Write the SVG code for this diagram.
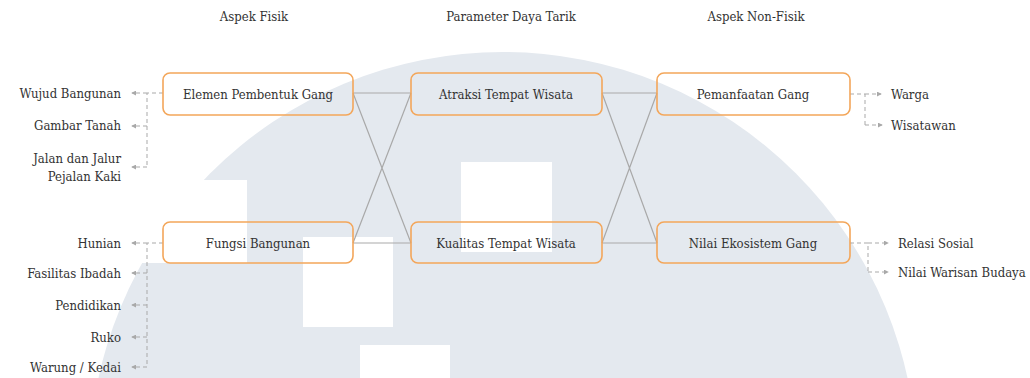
<svg xmlns="http://www.w3.org/2000/svg" width="1030" height="378" viewBox="0 0 1030 378">
<style>
text{font-family:'DejaVu Serif Condensed','DejaVu Serif',serif;font-stretch:condensed;font-size:13px;fill:#333}
.box{fill:none;stroke:#f3a65a;stroke-width:1.6}
.link{fill:none;stroke:#a9a9a9;stroke-width:1.2}
.dash{fill:none;stroke:#a9a9a9;stroke-width:1;stroke-dasharray:4 3}
.mid{text-anchor:middle}
.end{text-anchor:end}
</style>
<defs>
<marker id="ah" viewBox="0 0 6 6" refX="5" refY="3" markerWidth="5" markerHeight="5" markerUnits="userSpaceOnUse" orient="auto">
<path d="M0,0 L6,3 L0,6 z" fill="#a9a9a9"/>
</marker>
</defs>
<g id="watermark">
<circle cx="503" cy="466" r="414" fill="#e4e9ef"/>
<rect x="120" y="180" width="127" height="83" fill="#fff"/>
<rect x="303" y="237" width="90" height="90" fill="#fff"/>
<rect x="360" y="345" width="90" height="40" fill="#fff"/>
<rect x="461" y="162" width="91" height="90" fill="#fff"/>
</g>
<g id="headers">
<text class="mid" x="254" y="21">Aspek Fisik</text>
<text class="mid" x="511" y="21">Parameter Daya Tarik</text>
<text class="mid" x="756" y="21">Aspek Non-Fisik</text>
</g>
<g id="connectors">
<path class="link" d="M353,93 H411 M353,93 L411,243 M353,243 L411,93 M353,243 H411"/>
<path class="link" d="M602,93 H657 M602,93 L657,243 M602,243 L657,93 M602,243 H657"/>
<path class="dash" d="M163,93 H147 V167"/>
<path class="dash" d="M147,93 H132" marker-end="url(#ah)"/>
<path class="dash" d="M147,126 H132" marker-end="url(#ah)"/>
<path class="dash" d="M147,167 H132" marker-end="url(#ah)"/>
<path class="dash" d="M163,243 H147 V367"/>
<path class="dash" d="M147,243 H132" marker-end="url(#ah)"/>
<path class="dash" d="M147,273 H132" marker-end="url(#ah)"/>
<path class="dash" d="M147,305 H132" marker-end="url(#ah)"/>
<path class="dash" d="M147,337 H132" marker-end="url(#ah)"/>
<path class="dash" d="M147,367 H132" marker-end="url(#ah)"/>
<path class="dash" d="M850,94 H865 V125"/>
<path class="dash" d="M865,94 H881" marker-end="url(#ah)"/>
<path class="dash" d="M865,125 H882" marker-end="url(#ah)"/>
<path class="dash" d="M850,243 H868 V272"/>
<path class="dash" d="M868,243 H888" marker-end="url(#ah)"/>
<path class="dash" d="M868,272 H888" marker-end="url(#ah)"/>
</g>
<g id="elemen"><rect class="box" x="163" y="73" width="190" height="42" rx="7"/><text class="mid" x="258" y="99">Elemen Pembentuk Gang</text></g>
<g id="fungsi"><rect class="box" x="163" y="222" width="190" height="41" rx="7"/><text class="mid" x="258" y="248">Fungsi Bangunan</text></g>
<g id="atraksi"><rect class="box" x="411" y="73" width="191" height="42" rx="7"/><text class="mid" x="506" y="99">Atraksi Tempat Wisata</text></g>
<g id="kualitas"><rect class="box" x="411" y="222" width="191" height="41" rx="7"/><text class="mid" x="506" y="248">Kualitas Tempat Wisata</text></g>
<g id="pemanfaatan"><rect class="box" x="657" y="73" width="193" height="42" rx="7"/><text class="mid" x="753" y="99">Pemanfaatan Gang</text></g>
<g id="nilai-ekosistem"><rect class="box" x="657" y="222" width="193" height="41" rx="7"/><text class="mid" x="753" y="248">Nilai Ekosistem Gang</text></g>
<g id="wujud"><text class="end" x="121" y="98">Wujud Bangunan</text></g>
<g id="gambar"><text class="end" x="121" y="130">Gambar Tanah</text></g>
<g id="jalan"><text class="end" x="121" y="163">Jalan dan Jalur</text><text class="end" x="121" y="181">Pejalan Kaki</text></g>
<g id="hunian"><text class="end" x="121" y="248">Hunian</text></g>
<g id="fasilitas"><text class="end" x="121" y="278">Fasilitas Ibadah</text></g>
<g id="pendidikan"><text class="end" x="121" y="310">Pendidikan</text></g>
<g id="ruko"><text class="end" x="121" y="342">Ruko</text></g>
<g id="warung"><text class="end" x="121" y="372">Warung / Kedai</text></g>
<g id="warga"><text x="891" y="99">Warga</text></g>
<g id="wisatawan"><text x="891" y="130">Wisatawan</text></g>
<g id="relasi"><text x="898" y="248">Relasi Sosial</text></g>
<g id="warisan"><text x="898" y="277">Nilai Warisan Budaya</text></g>
</svg>
